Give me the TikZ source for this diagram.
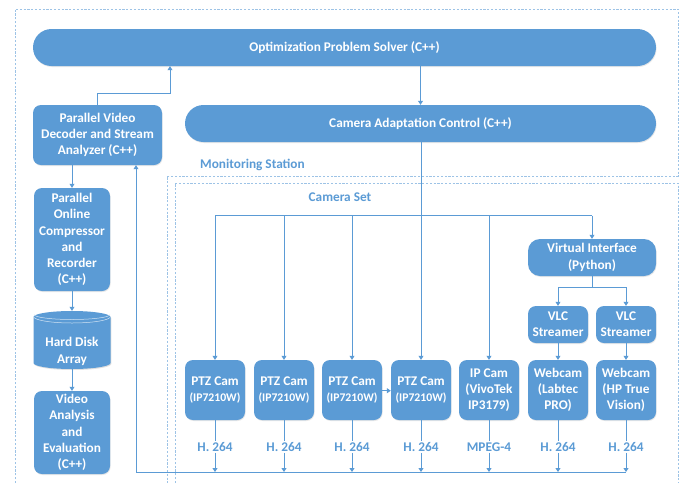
\documentclass[tikz,border=0pt]{standalone}
\usepackage{fontspec}
\setmainfont{Carlito}
\usetikzlibrary{arrows.meta,shapes.geometric,shadows}
\definecolor{boxblue}{HTML}{5B9BD5}
\definecolor{dashblue}{HTML}{9DC3E6}
\definecolor{lblblue}{HTML}{5B9BD5}
\newcommand{\subfnt}{\fontsize{11.7}{14}\selectfont}
\begin{document}
\begin{tikzpicture}[x=1pt,y=-1pt,
  box/.style={fill=boxblue, draw=none, rounded corners=8pt, text=white,
    font=\fontsize{13.3}{16.3}\selectfont\bfseries, align=center, inner sep=0pt,
    drop shadow={opacity=0.18, shadow xshift=0.6pt, shadow yshift=-1pt}},
  pill/.style={box, minimum height=37pt, rounded corners=18.5pt},
  cam/.style={box, minimum width=60pt, minimum height=60pt},
  small/.style={box, minimum width=76pt},
  lbl/.style={text=lblblue, font=\fontsize{13.3}{16}\selectfont\bfseries, inner sep=1pt},
  conn/.style={draw=boxblue, line width=0.8pt},
  arr/.style={conn, -{Triangle[width=5pt,length=4pt]}},
  dashline/.style={draw=dashblue, line width=0.8pt, dash pattern=on 2.2pt off 1.6pt},
  rim/.style={draw=white!72!boxblue, line width=0.5pt}
]
\useasboundingbox (0,0) rectangle (683,483);
\fill[white] (0,0) rectangle (683,483);

% dashed regions
\draw[dashline] (15,483) -- (15,9) -- (678,9) -- (678,176) -- (167,176) -- (167,483);
\draw[dashline] (175,483) -- (175,183) -- (678,183) -- (678,483);

% main nodes
\node[pill, minimum width=623pt] (ops) at (344.5,47.5) {Optimization Problem Solver (C++)};
\node[pill, minimum width=471pt] (cac) at (420.5,123.5) {Camera Adaptation Control (C++)};
\node[box, minimum width=129pt, minimum height=60pt] (dec) at (97.5,135) {Parallel Video\\Decoder and Stream\\Analyzer (C++)};
\node[small, minimum height=103pt] (cmp) at (72,239.5) {Parallel\\Online\\Compressor\\and\\Recorder\\(C++)};

% hard disk cylinder (radii in canvas units: 360 side is downwards)
\fill[black, opacity=0.12] (34.3,318) -- (34.3,364) arc[start angle=180, end angle=360, x radius=38.5pt, y radius=6pt]
  -- (111.3,318) arc[start angle=0, end angle=180, x radius=38.5pt, y radius=6pt] -- cycle;
\fill[boxblue] (33.5,317) -- (33.5,363) arc[start angle=180, end angle=360, x radius=38.5pt, y radius=6pt]
  -- (110.5,317) arc[start angle=0, end angle=180, x radius=38.5pt, y radius=6pt] -- cycle;
\draw[rim] (33.5,316.5) arc[start angle=180, end angle=360, x radius=38.5pt, y radius=6.5pt];
\draw[rim] (34,314.5) arc[start angle=180, end angle=360, x radius=38pt, y radius=5pt];
\node[minimum width=77pt, minimum height=58pt, inner sep=0pt] (hd) at (72,340) {};
\node[text=white, font=\fontsize{13.3}{16.8}\selectfont\bfseries, align=center, inner sep=0pt] (hdt) at (72,351.5) {Hard Disk\\Array};

\node[small, minimum height=83pt] (va) at (72,432.5) {Video\\Analysis\\and\\Evaluation\\(C++)};

\node[lbl, anchor=west] (ms) at (199,165) {Monitoring Station};
\node[lbl] (cs) at (340,197.5) {Camera Set};

% cameras
\node[cam] (p1) at (215,390) {PTZ Cam\\{\subfnt(IP7210W)}};
\node[cam] (p2) at (284,390) {PTZ Cam\\{\subfnt(IP7210W)}};
\node[cam] (p3) at (352,390) {PTZ Cam\\{\subfnt(IP7210W)}};
\node[cam] (p4) at (421,390) {PTZ Cam\\{\subfnt(IP7210W)}};
\node[cam] (ip) at (489,390) {IP Cam\\(VivoTek\\IP3179)};
\node[cam] (w1) at (558,390) {Webcam\\(Labtec\\PRO)};
\node[cam] (w2) at (626,390) {Webcam\\(HP True\\Vision)};

\node[box, minimum width=60pt, minimum height=37pt] (v1) at (558,324.5) {VLC\\Streamer};
\node[box, minimum width=60pt, minimum height=37pt] (v2) at (626,324.5) {VLC\\Streamer};
\node[box, minimum width=128pt, minimum height=37pt, rounded corners=12pt] (vi) at (592,257.5) {Virtual Interface\\(Python)};

% codec labels
\node[lbl] (h1) at (215,447) {H. 264};
\node[lbl] (h2) at (284,447) {H. 264};
\node[lbl] (h3) at (352,447) {H. 264};
\node[lbl] (h4) at (421,447) {H. 264};
\node[lbl] (h5) at (489,447) {MPEG-4};
\node[lbl] (h6) at (558,447) {H. 264};
\node[lbl] (h7) at (626,447) {H. 264};

% connectors: top part
\coordinate (k1) at (97.5,93);
\coordinate (k2) at (170,93);
\draw[arr] (dec.north) -- (k1) -- (k2) -- (k2 |- ops.south);
\draw[arr] (ops.south -| cac.north) -- (cac.north);
\draw[arr] (cac.south -| p4.north) -- (p4.north);

% distribution bus
\coordinate (bl) at (215,215.7);
\coordinate (br) at (592,215.7);
\draw[conn] (bl) -- (br);
\draw[arr] (bl) -- (p1.north);
\draw[arr] (p2.north |- bl) -- (p2.north);
\draw[arr] (p3.north |- bl) -- (p3.north);
\draw[arr] (ip.north |- bl) -- (ip.north);
\draw[arr] (br) -- (vi.north);
\draw[arr] (p3.east |- 0,390.7) -- (p4.west |- 0,390.7);

% virtual interface to VLC and webcams
\coordinate (vj) at (592,287);
\draw[conn] (vi.south) -- (vj);
\draw[arr] (vj) -| (v1.north);
\draw[arr] (vj) -| (v2.north);
\draw[arr] (v1.south) -- (w1.north);
\draw[arr] (v2.south) -- (w2.north);

% left column
\draw[arr] (dec.south -| cmp.north) -- (cmp.north);
\draw[arr] (cmp.south) -- (hd.north);
\draw[arr] (hd.south) -- (va.north);

% cameras to codec labels and collector bus
\coordinate (cl) at (136,472);
\coordinate (cr) at (626,472);
\draw[conn] (cl) -- (cr);
\draw[arr] (cl) -- (cl |- dec.south);
\foreach \c/\h in {p1/h1,p2/h2,p3/h3,p4/h4,ip/h5,w1/h6,w2/h7}{
  \draw[conn] (\c.south) -- (\h.north);
  \draw[arr] (\h.south) -- (\h.south |- cl);
}
\end{tikzpicture}
\end{document}
